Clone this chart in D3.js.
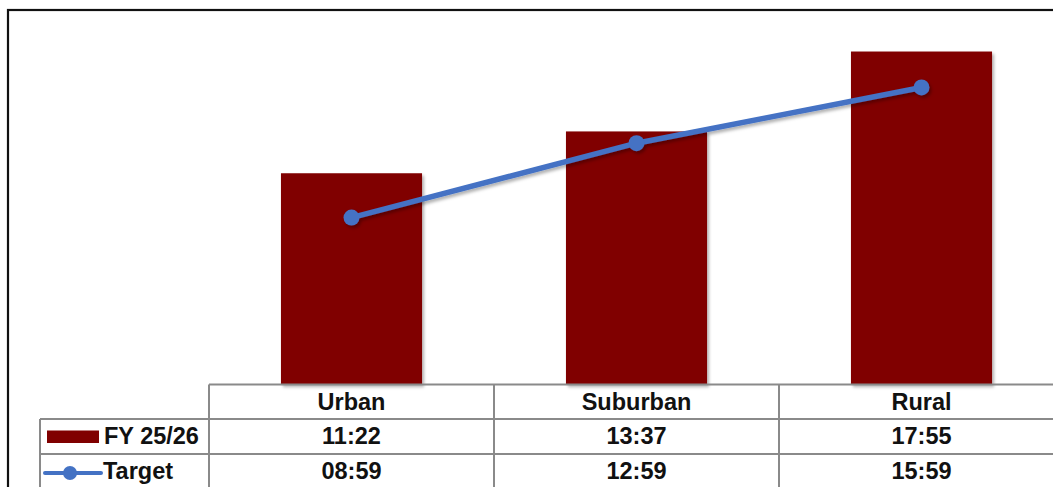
<!DOCTYPE html>
<html><head><meta charset="utf-8">
<script src="https://cdn.jsdelivr.net/npm/d3@7"></script>
<style>html,body{margin:0;padding:0;background:#fff;overflow:hidden}</style>
</head><body><svg id="c" width="1053" height="487"></svg>
<script>
const categories = ["Urban", "Suburban", "Rural"];
const fyLabels = ["11:22", "13:37", "17:55"];
const targetLabels = ["08:59", "12:59", "15:59"];
const seriesNames = ["FY 25/26", "Target"];

const toMin = s => { const [m, sec] = s.split(":").map(Number); return m + sec / 60; };
const fyValues = fyLabels.map(toMin);
const targetValues = targetLabels.map(toMin);

const svg = d3.select("#c");
const font = "'Liberation Sans', Arial, sans-serif";
const barColor = "#800000", lineColor = "#4472C4", gridColor = "#8a8a8a";

const defs = svg.append("defs");
const f = defs.append("filter").attr("id", "sh").attr("x", "-20%").attr("y", "-20%").attr("width", "140%").attr("height", "140%");
f.append("feDropShadow").attr("dx", 2).attr("dy", 2.5).attr("stdDeviation", 1.5).attr("flood-color", "#000").attr("flood-opacity", 0.3);

// frame
svg.append("rect").attr("x", 8).attr("y", 10).attr("width", 1070).attr("height", 500)
  .attr("fill", "none").attr("stroke", "#111").attr("stroke-width", 2.2);

const x = d3.scaleBand().domain(categories).range([209, 1064]).paddingInner(0.505).paddingOuter(0.2525);
const y = d3.scaleLinear().domain([0, 20]).range([384.5, 12.8]);

// bars
svg.append("g").selectAll("rect").data(categories).join("rect")
  .attr("x", d => x(d)).attr("width", x.bandwidth())
  .attr("y", (d, i) => y(fyValues[i])).attr("height", (d, i) => y(0) - y(fyValues[i]))
  .attr("fill", barColor).attr("filter", "url(#sh)");

// line
const cx = d => x(d) + x.bandwidth() / 2;
const gl = svg.append("g").attr("filter", "url(#sh)");
gl.append("path").datum(categories)
  .attr("d", d3.line().x(d => cx(d)).y((d, i) => y(targetValues[i])))
  .attr("fill", "none").attr("stroke", lineColor).attr("stroke-width", 5.5).attr("stroke-linecap", "round");
gl.selectAll("circle").data(categories).join("circle")
  .attr("cx", d => cx(d)).attr("cy", (d, i) => y(targetValues[i])).attr("r", 8).attr("fill", lineColor);

// data table
const rowTops = [384.5, 419, 454, 489];
const colEdges = [40, 209, 494, 779, 1064];
const tg = svg.append("g").attr("stroke", gridColor).attr("stroke-width", 2).attr("fill", "none");
tg.append("line").attr("x1", 209).attr("x2", 1064).attr("y1", rowTops[0]).attr("y2", rowTops[0]);
[1, 2, 3].forEach(i => tg.append("line").attr("x1", 40).attr("x2", 1064).attr("y1", rowTops[i]).attr("y2", rowTops[i]));
tg.append("line").attr("x1", 40).attr("x2", 40).attr("y1", rowTops[1]).attr("y2", rowTops[3]);
[1, 2, 3, 4].forEach(i => tg.append("line").attr("x1", colEdges[i]).attr("x2", colEdges[i]).attr("y1", rowTops[0]).attr("y2", rowTops[3]));

const txt = svg.append("g").attr("font-family", font).attr("font-weight", "bold").attr("font-size", 23.5).attr("fill", "#111");
txt.selectAll("text.h").data(categories).join("text").attr("class", "h")
  .attr("x", d => cx(d)).attr("y", 409.5).attr("text-anchor", "middle").text(d => d);
txt.selectAll("text.r1").data(categories).join("text").attr("class", "r1")
  .attr("x", d => cx(d)).attr("y", 443.5).attr("text-anchor", "middle").text((d, i) => fyLabels[i]);
txt.selectAll("text.r2").data(categories).join("text").attr("class", "r2")
  .attr("x", d => cx(d)).attr("y", 478.5).attr("text-anchor", "middle").text((d, i) => targetLabels[i]);

// legend keys
svg.append("rect").attr("x", 47).attr("y", 430.5).attr("width", 52).attr("height", 12.5).attr("fill", barColor);
svg.append("line").attr("x1", 45).attr("x2", 101).attr("y1", 473).attr("y2", 473)
  .attr("stroke", lineColor).attr("stroke-width", 4).attr("stroke-linecap", "round");
svg.append("circle").attr("cx", 70).attr("cy", 473).attr("r", 7).attr("fill", lineColor);
txt.append("text").attr("x", 104).attr("y", 443.5).text(seriesNames[0]);
txt.append("text").attr("x", 103).attr("y", 478.5).text(seriesNames[1]);
</script></body></html>
